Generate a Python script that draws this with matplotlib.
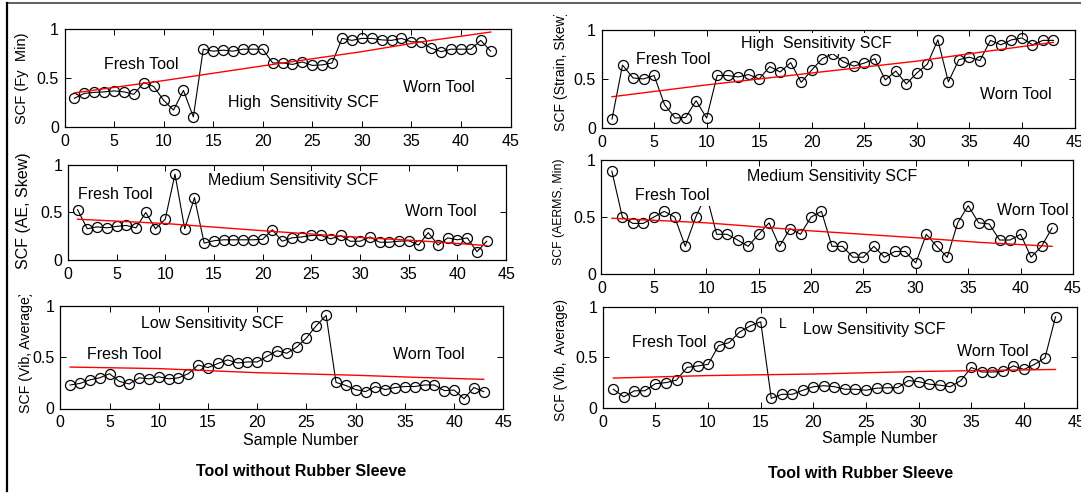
import numpy as np
import matplotlib
matplotlib.use("Agg")
import matplotlib.pyplot as plt
from matplotlib.lines import Line2D
from matplotlib.transforms import Bbox, TransformedBbox

plt.rcParams['font.family'] = ['Liberation Sans', 'DejaVu Sans']

# ---------------- data ----------------
samples = list(range(1, 44))

fy_min = [0.29, 0.34, 0.35, 0.355, 0.365, 0.355, 0.33, 0.45, 0.41, 0.27,
          0.17, 0.37, 0.10, 0.79, 0.77, 0.78, 0.77, 0.79, 0.79, 0.79,
          0.65, 0.65, 0.635, 0.66, 0.625, 0.63, 0.65, 0.90, 0.88, 0.90,
          0.90, 0.885, 0.88, 0.90, 0.865, 0.865, 0.80, 0.765, 0.79, 0.79,
          0.79, 0.88, 0.77]
strain_skew = [0.095, 0.64, 0.51, 0.50, 0.535, 0.24, 0.105, 0.11, 0.28, 0.105,
               0.535, 0.535, 0.52, 0.545, 0.50, 0.625, 0.57, 0.665, 0.465, 0.59,
               0.705, 0.755, 0.675, 0.63, 0.66, 0.705, 0.49, 0.58, 0.45, 0.56,
               0.65, 0.895, 0.47, 0.695, 0.72, 0.685, 0.89, 0.845, 0.895, 0.915,
               0.845, 0.89, 0.89]
ae_skew = [0.53, 0.33, 0.35, 0.34, 0.355, 0.365, 0.34, 0.50, 0.33, 0.43,
           0.90, 0.33, 0.655, 0.18, 0.205, 0.215, 0.215, 0.215, 0.215, 0.22,
           0.32, 0.20, 0.235, 0.245, 0.26, 0.26, 0.225, 0.26, 0.20, 0.20,
           0.245, 0.19, 0.19, 0.20, 0.205, 0.16, 0.29, 0.16, 0.235, 0.215,
           0.235, 0.09, 0.20]
aerms_min = [0.90, 0.50, 0.445, 0.445, 0.50, 0.55, 0.50, 0.245, 0.50, 0.70,
             0.35, 0.35, 0.30, 0.245, 0.35, 0.45, 0.245, 0.40, 0.35, 0.50,
             0.55, 0.245, 0.245, 0.15, 0.15, 0.245, 0.15, 0.20, 0.20, 0.10,
             0.35, 0.245, 0.15, 0.45, 0.60, 0.45, 0.44, 0.30, 0.30, 0.35,
             0.15, 0.245, 0.405]
vib_avg_no_sleeve = [0.23, 0.245, 0.28, 0.30, 0.34, 0.265, 0.24, 0.30, 0.29, 0.31,
                     0.29, 0.30, 0.34, 0.425, 0.40, 0.44, 0.475, 0.445, 0.455, 0.455,
                     0.51, 0.565, 0.54, 0.60, 0.69, 0.81, 0.91, 0.255, 0.225, 0.185,
                     0.165, 0.215, 0.185, 0.205, 0.215, 0.215, 0.23, 0.23, 0.175, 0.18,
                     0.095, 0.205, 0.165]
vib_avg_sleeve = [0.185, 0.11, 0.17, 0.17, 0.24, 0.25, 0.275, 0.40, 0.415, 0.43,
                  0.615, 0.645, 0.75, 0.81, 0.85, 0.095, 0.135, 0.135, 0.175, 0.21,
                  0.22, 0.21, 0.185, 0.185, 0.175, 0.195, 0.20, 0.20, 0.27, 0.26,
                  0.235, 0.225, 0.21, 0.27, 0.40, 0.355, 0.355, 0.36, 0.415, 0.38,
                  0.43, 0.495, 0.90]

# trend (red) lines, read at these sample numbers
trend_x = [1, 10, 20, 30, 36, 43]
trend_fy_min = [0.345, 0.47, 0.62, 0.765, 0.865, 0.965]
trend_strain_skew = [0.32, 0.44, 0.56, 0.68, 0.77, 0.87]
trend_ae_skew = [0.43, 0.385, 0.31, 0.24, 0.205, 0.155]
trend_aerms_min = [0.49, 0.45, 0.38, 0.32, 0.28, 0.245]
trend_vib_no_sleeve = [0.405, 0.39, 0.35, 0.325, 0.305, 0.285]
trend_vib_sleeve = [0.295, 0.32, 0.335, 0.36, 0.37, 0.38]

x_ticks = [0, 5, 10, 15, 20, 25, 30, 35, 40, 45]
y_ticks = [0, 0.5, 1]
y_ticklabels = ['0', '0.5', '1']

# ---------------- figure ----------------
W, H = 1081, 493
fig = plt.figure(figsize=(W / 100, H / 100), dpi=100)
fig.patch.set_facecolor('white')

FS = 11.5


def make_ax(x0, x45, ytop, ybot):
    ax = fig.add_axes([x0 / W, 1 - ybot / H, (x45 - x0) / W, (ybot - ytop) / H])
    ax.set_xlim(0, 45)
    ax.set_ylim(0, 1)
    ax.set_xticks(x_ticks)
    ax.set_yticks(y_ticks)
    ax.set_yticklabels(y_ticklabels)
    ax.tick_params(direction='in', top=True, right=True, length=4, width=0.7,
                   labelsize=FS, pad=4)
    ax.tick_params(axis='x', pad=5)
    for s in ax.spines.values():
        s.set_linewidth(0.9)
        s.set_color('black')
    return ax


def draw(ax, y, ty):
    ax.plot(samples, y, color='black', lw=0.8, marker='o', markersize=7.2,
            markerfacecolor='none', markeredgecolor='black', markeredgewidth=0.9,
            zorder=2)
    ax.plot(trend_x, ty, color='#ff0000', lw=1.0, zorder=2.5)


def label(ax, x, y, s):
    ax.text(x, y, s, fontsize=FS, ha='center', va='center', zorder=5,
            bbox=dict(facecolor='white', edgecolor='none', pad=2.0))


def ylab(xc, yc, s, size, clip_top=None):
    t = fig.text(xc / W, 1 - yc / H, s, rotation=90, ha='center', va='center',
                 fontsize=size)
    if clip_top is not None:
        t.set_clip_box(TransformedBbox(Bbox.from_extents(0, 0, 1, 1 - clip_top / H),
                                       fig.transFigure))
        t.set_clip_on(True)
    return t


# panel 1: top-left
ax1 = make_ax(64.5, 510.5, 28.6, 126.7)
draw(ax1, fy_min, trend_fy_min)
label(ax1, 7.7, 0.635, 'Fresh Tool')
label(ax1, 24.1, 0.25, 'High  Sensitivity SCF')
label(ax1, 37.8, 0.40, 'Worn Tool')
ylab(22.4, 78, 'SCF (Fy  Min)', 10.5)

# panel 2: top-right
ax2 = make_ax(601.5, 1074.5, 29.5, 128.4)
draw(ax2, strain_skew, trend_strain_skew)
label(ax2, 6.8, 0.70, 'Fresh Tool')
label(ax2, 20.4, 0.86, 'High  Sensitivity SCF')
label(ax2, 39.4, 0.34, 'Worn Tool')
ylab(561.4, 71, 'SCF (Strain, Skew)', 10.1, clip_top=15)

# panel 3: middle-left
ax3 = make_ax(67.8, 506.2, 164.6, 260.4)
draw(ax3, ae_skew, trend_ae_skew)
label(ax3, 4.9, 0.69, 'Fresh Tool')
label(ax3, 23.1, 0.83, 'Medium Sensitivity SCF')
label(ax3, 38.3, 0.51, 'Worn Tool')
ylab(24, 211, 'SCF (AE, Skew)', 11.5)

# panel 4: middle-right
ax4 = make_ax(601.4, 1073, 159.8, 274.4)
draw(ax4, aerms_min, trend_aerms_min)
label(ax4, 6.8, 0.69, 'Fresh Tool')
label(ax4, 22.0, 0.85, 'Medium Sensitivity SCF')
label(ax4, 41.2, 0.56, 'Worn Tool')
ylab(559, 212, 'SCF (AERMS, Min)', 8.8)

# panel 5: bottom-left
ax5 = make_ax(60.3, 503.4, 306.2, 408.5)
draw(ax5, vib_avg_no_sleeve, trend_vib_no_sleeve)
label(ax5, 6.5, 0.53, 'Fresh Tool')
label(ax5, 15.4, 0.83, 'Low Sensitivity SCF')
label(ax5, 37.4, 0.53, 'Worn Tool')
ylab(25.8, 352.5, 'SCF (Vib, Average)', 10.2, clip_top=295)

# panel 6: bottom-right
ax6 = make_ax(602.8, 1076.6, 306.6, 408)
draw(ax6, vib_avg_sleeve, trend_vib_sleeve)
label(ax6, 6.3, 0.65, 'Fresh Tool')
ax6.text(17.1, 0.825, 'L', fontsize=FS - 1.5, ha='center', va='center', zorder=5)
label(ax6, 25.8, 0.77, 'Low Sensitivity SCF')
label(ax6, 37.0, 0.56, 'Worn Tool')
ylab(561.4, 360, 'SCF (Vib,  Average)', 9.9)

# x labels and captions
fig.text(301 / W, 1 - 441 / H, 'Sample Number', ha='center', va='center', fontsize=FS)
fig.text(880 / W, 1 - 438 / H, 'Sample Number', ha='center', va='center', fontsize=FS)
fig.text(301 / W, 1 - 472 / H, 'Tool without Rubber Sleeve', ha='center', va='center',
         fontsize=FS, fontweight='bold')
fig.text(861 / W, 1 - 473 / H, 'Tool with Rubber Sleeve', ha='center', va='center',
         fontsize=FS, fontweight='bold')

# outer frame lines (top and left)
fig.add_artist(Line2D([6.5 / W, 1.0], [1 - 3.3 / H, 1 - 3.3 / H], color='#444444',
                      lw=1.2, transform=fig.transFigure))
fig.add_artist(Line2D([6.7 / W, 6.7 / W], [1 - 3.3 / H, 1 - 491 / H], color='black',
                      lw=1.6, transform=fig.transFigure))

fig.savefig('out.png', dpi=100, facecolor='white')
